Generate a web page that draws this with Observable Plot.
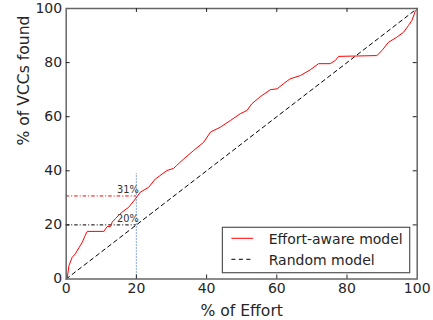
<!DOCTYPE html>
<html>
<head>
<meta charset="utf-8">
<script src="https://cdn.jsdelivr.net/npm/d3@7"></script>
<script src="https://cdn.jsdelivr.net/npm/@observablehq/plot@0.6"></script>
<style>
  html, body { margin: 0; padding: 0; background: #fff; }
  #chart svg { display: block; }
</style>
</head>
<body>
<div id="chart"></div>
<script>
// Effort-aware model curve (% effort, % VCCs found)
const effortX = [0, 0.3, 0.8, 1.7, 2.6, 3.6, 4.6, 5.3, 6, 10.7, 11.7, 12.6, 13.1, 14, 15.9, 17.8, 19.7, 20.5, 21.1, 23.5, 25.4, 26.5, 28.7, 30.6, 31.5, 33.5, 36.3, 39.2, 41.1, 43.9, 46.8, 49.6, 51.5, 52.9, 55.3, 58.2, 60.1, 61.9, 63.8, 66.7, 69.5, 71.9, 75.2, 76.7, 77.6, 88.5, 90, 91.8, 94.2, 96.1, 97.5, 98.5, 99.4, 100];
const effortY = [0, 0.4, 5, 8, 9.3, 11.5, 13.6, 15.8, 17.6, 17.6, 19.4, 19.4, 21, 22.3, 24.7, 26.5, 29.6, 31, 32.1, 33.9, 37, 38, 40.1, 40.9, 42, 44.4, 47.5, 50.6, 54.3, 56.1, 58.6, 61.1, 62.3, 64.8, 67.4, 70, 70.3, 72.2, 74, 75.2, 77.3, 79.6, 79.6, 80.8, 82.3, 82.6, 84.5, 87.5, 89.4, 91.2, 93.7, 95.6, 98.8, 100];
// Random model
const randomX = [0, 100];
const randomY = [0, 100];
// Reference markers at 20% effort
const markEffort = 20;
const markTop = 39;
const refValues = [30.7, 20];
const refLabels = ["31%", "20%"];
const refColors = ["#ff0000", "#000000"];
// Ticks
const tickValues = [0, 20, 40, 60, 80, 100];
const innerTicks = [20, 40, 60, 80];
const seriesNames = ["Effort-aware model", "Random model"];
const xLabel = "% of Effort";
const yLabel = "% of VCCs found";

const effort = effortX.map((x, i) => ({x, y: effortY[i]}));
const random = randomX.map((x, i) => ({x, y: randomY[i]}));
const refs = refValues.map((v, i) => ({v, label: refLabels[i], color: refColors[i]}));

const W = 433, H = 320;
const mL = 65.7, mR = 16.3, mT = 8, mB = 41.5;
const font = "DejaVu Sans, Bitstream Vera Sans, sans-serif";

const chart = Plot.plot({
  width: W, height: H,
  marginLeft: mL, marginRight: mR, marginTop: mT, marginBottom: mB,
  style: {fontFamily: font, background: "white", color: "#262626"},
  x: {domain: [0, 100]},
  y: {domain: [0, 100]},
  marks: [
    // reference lines
    Plot.ruleY(refs, {y: "v", x1: 0, x2: markEffort, stroke: "color", strokeWidth: 1, strokeDasharray: "3.5,2,1,2"}),
    Plot.ruleX([markEffort], {x: d => d, y1: 0, y2: markTop, stroke: "#3b75c9", strokeWidth: 1.2, strokeDasharray: "1,2"}),
    Plot.text(refs, {x: markEffort, y: "v", text: "label", textAnchor: "end", lineAnchor: "bottom", dx: 2.5, dy: -2.5, fontSize: 9.8, fill: "#333"}),
    // series
    Plot.line(random, {x: "x", y: "y", stroke: "black", strokeWidth: 1, strokeDasharray: "4,3.5"}),
    Plot.line(effort, {x: "x", y: "y", stroke: "#ff0000", strokeWidth: 1}),
    // frame
    Plot.frame({stroke: "#666", strokeWidth: 1.5}),
    // inward ticks on four sides
    Plot.ruleX(innerTicks, {x: d => d, y1: 0, y2: 0, insetBottom: 4, stroke: "#222", strokeWidth: 1}),
    Plot.ruleX(innerTicks, {x: d => d, y1: 100, y2: 100, insetTop: 4, stroke: "#222", strokeWidth: 1}),
    Plot.ruleY(innerTicks, {y: d => d, x1: 0, x2: 0, insetRight: -4, stroke: "#222", strokeWidth: 1}),
    Plot.ruleY(innerTicks, {y: d => d, x1: 100, x2: 100, insetLeft: -4, stroke: "#222", strokeWidth: 1}),
    // tick labels
    Plot.axisX(tickValues, {tickSize: 0, tickPadding: 4, fontSize: 14, label: null, fill: "#262626"}),
    Plot.axisY(tickValues, {tickSize: 0, tickPadding: 4, fontSize: 14, label: null, fill: "#262626"}),
    // axis titles
    Plot.text([xLabel], {frameAnchor: "bottom", lineAnchor: "bottom", dy: 36.5, fontSize: 15.6, fill: "#262626"}),
    Plot.text([yLabel], {frameAnchor: "left", rotate: -90, dx: -42.2, dy: 1.8, fontSize: 15.6, fill: "#262626"})
  ]
});

// legend inside lower-right corner of the frame
const svg = d3.select(chart);
const fr = {right: W - mR, bottom: H - mB};
const box = {x: fr.right - 194.3, y: fr.bottom - 51.2, w: 187.3, h: 45.4};
const lg = svg.append("g").attr("font-family", font).attr("font-size", 14).attr("text-anchor", "start");
lg.append("rect").attr("x", box.x).attr("y", box.y).attr("width", box.w).attr("height", box.h)
  .attr("fill", "white").attr("stroke", "#555").attr("stroke-width", 1.2);
const styles = [{stroke: "#ff0000", dash: null}, {stroke: "black", dash: "4,3.5"}];
seriesNames.forEach((name, i) => {
  const cy = box.y + 11 + i * 21;
  const l = lg.append("line").attr("x1", box.x + 9).attr("x2", box.x + 30.6)
    .attr("y1", cy).attr("y2", cy).attr("stroke", styles[i].stroke).attr("stroke-width", 1);
  if (styles[i].dash) l.attr("stroke-dasharray", styles[i].dash);
  lg.append("text").attr("x", box.x + 46.3).attr("y", cy + 6).attr("fill", "#262626").text(name);
});

document.getElementById("chart").appendChild(chart);
</script>
</body>
</html>
